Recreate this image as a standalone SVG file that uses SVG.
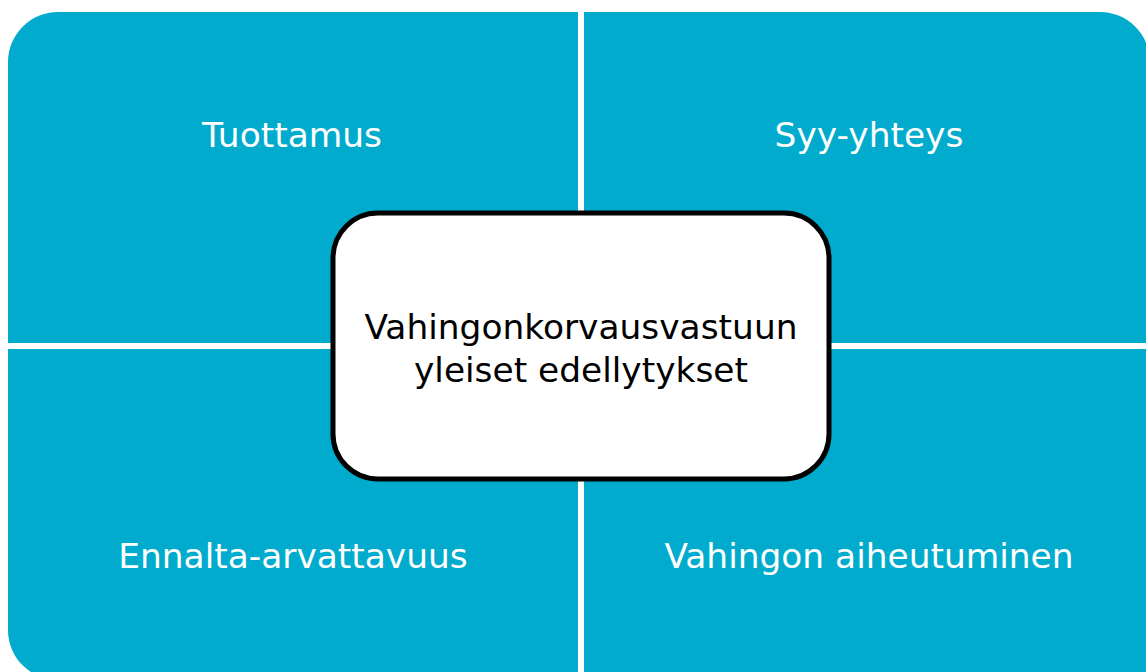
<svg xmlns="http://www.w3.org/2000/svg" width="1146" height="672" viewBox="0 0 1146 672">
<style>
.q{fill:#00ABCD}
.wt{font-family:"DejaVu Sans",Verdana,sans-serif;font-size:34.4px;fill:#ffffff;text-anchor:middle}
.bt{font-family:"DejaVu Sans",Verdana,sans-serif;font-size:34.4px;fill:#000000;text-anchor:middle}
.box{fill:#ffffff;stroke:#000000;stroke-width:5}
</style>
<rect width="1146" height="672" fill="#ffffff"/>
<g id="tuottamus">
<path class="q" d="M8,62 A50,50 0 0 1 58,12 L578,12 L578,343 L8,343 Z"/>
<text class="wt" x="292" y="147">Tuottamus</text>
</g>
<g id="syy-yhteys">
<path class="q" d="M584,12 L1100,12 A50,50 0 0 1 1150,62 L1150,343 L584,343 Z"/>
<text class="wt" x="869" y="147">Syy-yhteys</text>
</g>
<g id="ennalta-arvattavuus">
<path class="q" d="M8,349 L578,349 L578,680 L58,680 A50,50 0 0 1 8,630 Z"/>
<text class="wt" x="293" y="568">Ennalta-arvattavuus</text>
</g>
<g id="vahingon-aiheutuminen">
<path class="q" d="M584,349 L1150,349 L1150,680 L584,680 Z"/>
<text class="wt" x="869" y="568">Vahingon aiheutuminen</text>
</g>
<g id="connectors"></g>
<g id="center">
<rect class="box" x="333" y="213" width="496" height="266" rx="45" ry="45"/>
<text class="bt" x="581" y="339">Vahingonkorvausvastuun</text>
<text class="bt" x="581" y="381.5">yleiset edellytykset</text>
</g>
</svg>
